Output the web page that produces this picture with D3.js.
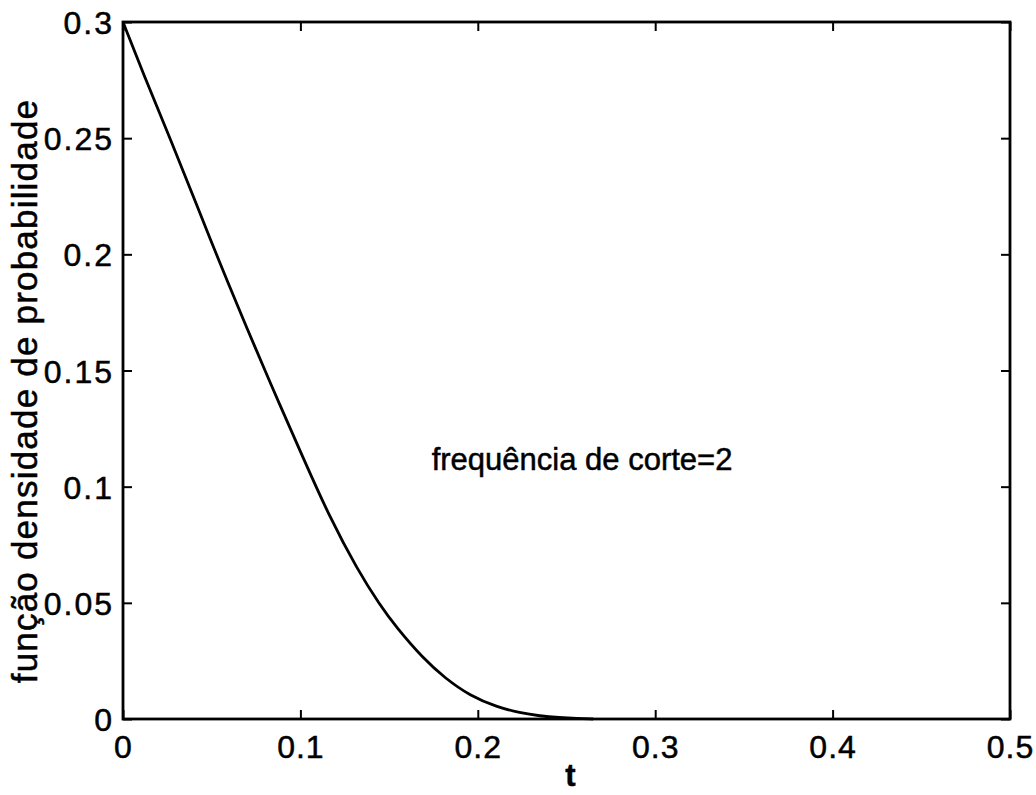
<!DOCTYPE html>
<html>
<head>
<meta charset="utf-8">
<script src="https://cdn.jsdelivr.net/npm/d3@7"></script>
<style>
  html, body { margin: 0; padding: 0; background: #fff; }
  svg { display: block; }
  text { font-family: "Liberation Sans", Arial, sans-serif; fill: #000; stroke: #000; stroke-width: 0.5px; }
</style>
</head>
<body>
<svg id="chart" width="1036" height="795"></svg>
<script>
// Probability density curve (cutoff frequency = 2)
const tValues = [0, 0.0113, 0.0265, 0.0417, 0.0547, 0.0699, 0.0812, 0.0868, 0.1015, 0.1167,
                 0.132, 0.1448, 0.154, 0.169, 0.1815, 0.1956, 0.2108, 0.2238, 0.235, 0.246,
                 0.256, 0.265];
const densityValues = [0.300, 0.278, 0.250, 0.221, 0.196, 0.168, 0.148, 0.138, 0.1125, 0.0865,
                       0.0645, 0.049, 0.0395, 0.0262, 0.0176, 0.0100, 0.0052, 0.0026, 0.0013, 0.0006,
                       0.0002, 0];

const xTicks = [0, 0.1, 0.2, 0.3, 0.4, 0.5];
const xTickLabels = ["0", "0.1", "0.2", "0.3", "0.4", "0.5"];
const yTicks = [0, 0.05, 0.1, 0.15, 0.2, 0.25, 0.3];
const yTickLabels = ["0", "0.05", "0.1", "0.15", "0.2", "0.25", "0.3"];

const xLabel = "t";
const yLabel = "função densidade de probabilidade";
const annotation = { t: 0.174, v: 0.107, text: "frequência de corte=2" };

const svg = d3.select("#chart");
const plotLeft = 123, plotRight = 1010, plotTop = 22, plotBottom = 719;

const x = d3.scaleLinear().domain([0, 0.5]).range([plotLeft, plotRight]);
const y = d3.scaleLinear().domain([0, 0.3]).range([plotBottom, plotTop]);

const tickLen = 9;
const tickFont = 32;

// Curve
const points = tValues.map((t, i) => [t, densityValues[i]]);
svg.append("path")
  .datum(points)
  .attr("fill", "none")
  .attr("stroke", "#000")
  .attr("stroke-width", 2.8)
  .attr("stroke-linejoin", "round")
  .attr("d", d3.line().x(d => x(d[0])).y(d => y(d[1])).curve(d3.curveBasis));

// Axes with inward ticks on all sides
function styleAxis(g) {
  g.select(".domain").remove();
  g.selectAll(".tick line").attr("stroke", "#000").attr("stroke-width", 2);
}
svg.append("g").attr("transform", `translate(0,${plotBottom})`)
  .call(d3.axisBottom(x).tickValues(xTicks).tickSizeInner(-tickLen).tickSizeOuter(0)
    .tickFormat((d, i) => xTickLabels[i]))
  .call(styleAxis)
  .call(g => g.selectAll("text").attr("font-size", tickFont).attr("dy", "0.71em")
    .attr("y", 16).style("letter-spacing", "1px"));

svg.append("g").attr("transform", `translate(0,${plotTop})`)
  .call(d3.axisTop(x).tickValues(xTicks).tickSizeInner(-tickLen).tickSizeOuter(0).tickFormat(""))
  .call(styleAxis);

svg.append("g").attr("transform", `translate(${plotLeft},0)`)
  .call(d3.axisLeft(y).tickValues(yTicks).tickSizeInner(-tickLen).tickSizeOuter(0)
    .tickFormat((d, i) => yTickLabels[i]))
  .call(styleAxis)
  .call(g => g.selectAll("text").attr("font-size", tickFont).attr("x", -9)
    .attr("dy", "0.36em").style("letter-spacing", "2px"));

svg.append("g").attr("transform", `translate(${plotRight},0)`)
  .call(d3.axisRight(y).tickValues(yTicks).tickSizeInner(-tickLen).tickSizeOuter(0).tickFormat(""))
  .call(styleAxis);

// Frame
svg.append("rect")
  .attr("x", plotLeft).attr("y", plotTop)
  .attr("width", plotRight - plotLeft).attr("height", plotBottom - plotTop)
  .attr("fill", "none").attr("stroke", "#000").attr("stroke-width", 2.8);

// Axis titles
svg.append("text")
  .attr("x", (plotLeft + plotRight) / 2 + 4).attr("y", 786)
  .attr("text-anchor", "middle").attr("font-size", 31).attr("font-weight", "bold")
  .text(xLabel);

svg.append("text")
  .attr("transform", `translate(37,391) rotate(-90)`)
  .attr("text-anchor", "middle").attr("font-size", 35)
  .style("letter-spacing", "1.2px")
  .text(yLabel);

// Annotation
svg.append("text")
  .attr("x", x(annotation.t)).attr("y", y(annotation.v))
  .attr("font-size", 31)
  .text(annotation.text);
</script>
</body>
</html>
